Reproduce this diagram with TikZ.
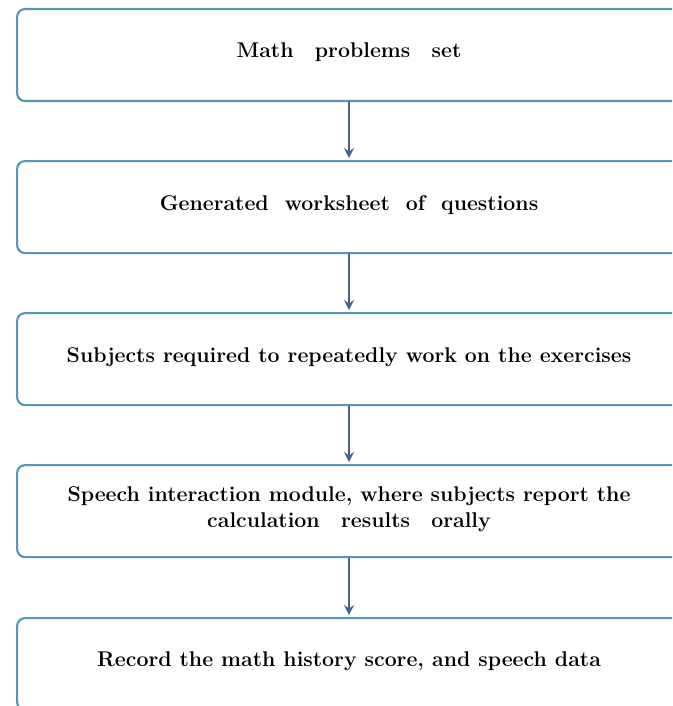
\documentclass[tikz,border=0pt]{standalone}
\usetikzlibrary{arrows.meta}
\definecolor{boxline}{RGB}{88,150,178}
\definecolor{flowarrow}{RGB}{72,98,146}
\begin{document}
\begin{tikzpicture}[x=1pt,y=-1pt,
  stagebox/.style={draw=boxline,line width=2.2pt,rounded corners=8pt,fill=white,
    minimum width=666pt,minimum height=92pt,inner sep=0pt,anchor=north west},
  stagetext/.style={font=\fontsize{21.3}{26}\selectfont\bfseries,align=center},
  flow/.style={draw=flowarrow,line width=2pt,-{Stealth[length=10pt,width=10pt,inset=3.5pt]}}]
  \useasboundingbox (0,0) rectangle (672,706);
  \begin{scope}
  \clip (0,0) rectangle (672,706);
  \node[stagebox] (b1) at (16,8) {};
  \node[stagebox] (b2) at (16,160) {};
  \node[stagebox] (b3) at (16,312) {};
  \node[stagebox] (b4) at (16,464) {};
  \node[stagebox] (b5) at (16,617) {};
  \end{scope}
  \node[stagetext] (t1) at (349,52) {Math\hspace{1.0em}problems\hspace{1.0em}set};
  \node[stagetext] (t2) at (349,205) {Generated\hspace{0.75em}worksheet\hspace{0.75em}of\hspace{0.75em}questions};
  \node[stagetext] (t3) at (349,357) {Subjects required to repeatedly work on the exercises};
  \node[stagetext] (t4) at (349,509) {Speech interaction module, where subjects report the\\calculation\hspace{1.0em}results\hspace{1.0em}orally};
  \node[stagetext] (t5) at (349,661) {Record the math history score, and speech data};
  \coordinate (a1s) at (349,101); \coordinate (a1e) at (349,158);
  \coordinate (a2s) at (349,253); \coordinate (a2e) at (349,310);
  \coordinate (a3s) at (349,406); \coordinate (a3e) at (349,462);
  \coordinate (a4s) at (349,558); \coordinate (a4e) at (349,615);
  \draw[flow] (a1s) -- (a1e);
  \draw[flow] (a2s) -- (a2e);
  \draw[flow] (a3s) -- (a3e);
  \draw[flow] (a4s) -- (a4e);
\end{tikzpicture}
\end{document}
